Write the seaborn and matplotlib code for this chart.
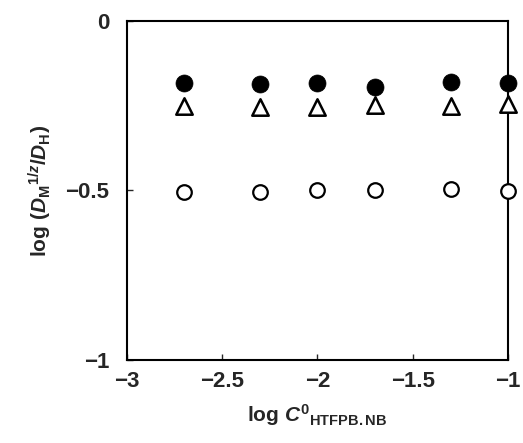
import numpy as np
import pandas as pd
import seaborn as sns
import matplotlib.pyplot as plt

# datos
log_c = [-2.7, -2.3, -2.0, -1.7, -1.3, -1.0]
filled_circles = [-0.183, -0.185, -0.184, -0.196, -0.180, -0.182]
triangles = [-0.250, -0.254, -0.254, -0.247, -0.250, -0.245]
open_circles = [-0.505, -0.505, -0.500, -0.500, -0.497, -0.502]

sns.set_style("ticks")
plt.rcParams['font.family'] = ['Liberation Sans', 'DejaVu Sans']
plt.rcParams['font.weight'] = 'bold'
plt.rcParams['mathtext.fontset'] = 'custom'
plt.rcParams['mathtext.rm'] = 'Liberation Sans:bold'
plt.rcParams['mathtext.it'] = 'Liberation Sans:italic:bold'
plt.rcParams['mathtext.bf'] = 'Liberation Sans:bold'

df = pd.DataFrame({'x': log_c, 'filled': filled_circles,
                   'tri': triangles, 'open': open_circles})

fig = plt.figure(figsize=(5.23, 4.43), dpi=100)
ax = fig.add_axes([0.243, 0.187, 0.728, 0.766])

sns.scatterplot(data=df, x='x', y='open', ax=ax, marker='o', s=110,
                facecolor='white', edgecolor='black', linewidth=1.6,
                zorder=3, clip_on=False)
sns.scatterplot(data=df, x='x', y='tri', ax=ax, marker='^', s=140,
                facecolor='white', edgecolor='black', linewidth=1.8,
                zorder=3, clip_on=False)
sns.scatterplot(data=df, x='x', y='filled', ax=ax, marker='o', s=150,
                color='black', edgecolor='black', linewidth=0.5,
                zorder=4, clip_on=False)

ax.set_xlim(-3, -1)
ax.set_ylim(-1, 0)
ax.set_xticks([-3, -2.5, -2, -1.5, -1])
ax.set_xticklabels(['\u22123', '\u22122.5', '\u22122', '\u22121.5', '\u22121'])
ax.set_yticks([-1, -0.5, 0])
ax.set_yticklabels(['\u22121', '\u22120.5', '0'])
ax.tick_params(direction='in', length=4, width=1, labelsize=16)
ax.tick_params(axis='y', pad=13)
ax.tick_params(axis='x', pad=8)
for s in ax.spines.values():
    s.set_linewidth(1.5)
    s.set_color('black')

ax.set_xlabel(r'log $\mathit{C}^{0}{}_{\mathrm{HTFPB.NB}}$', fontsize=15,
              fontweight='bold', labelpad=7)
ax.set_ylabel(r'log $(\mathit{D}_{\mathrm{M}}{}^{1/z}/\mathit{D}_{\mathrm{H}})$',
              fontsize=15, fontweight='bold', labelpad=8)

fig.savefig('out.png', dpi=100)
